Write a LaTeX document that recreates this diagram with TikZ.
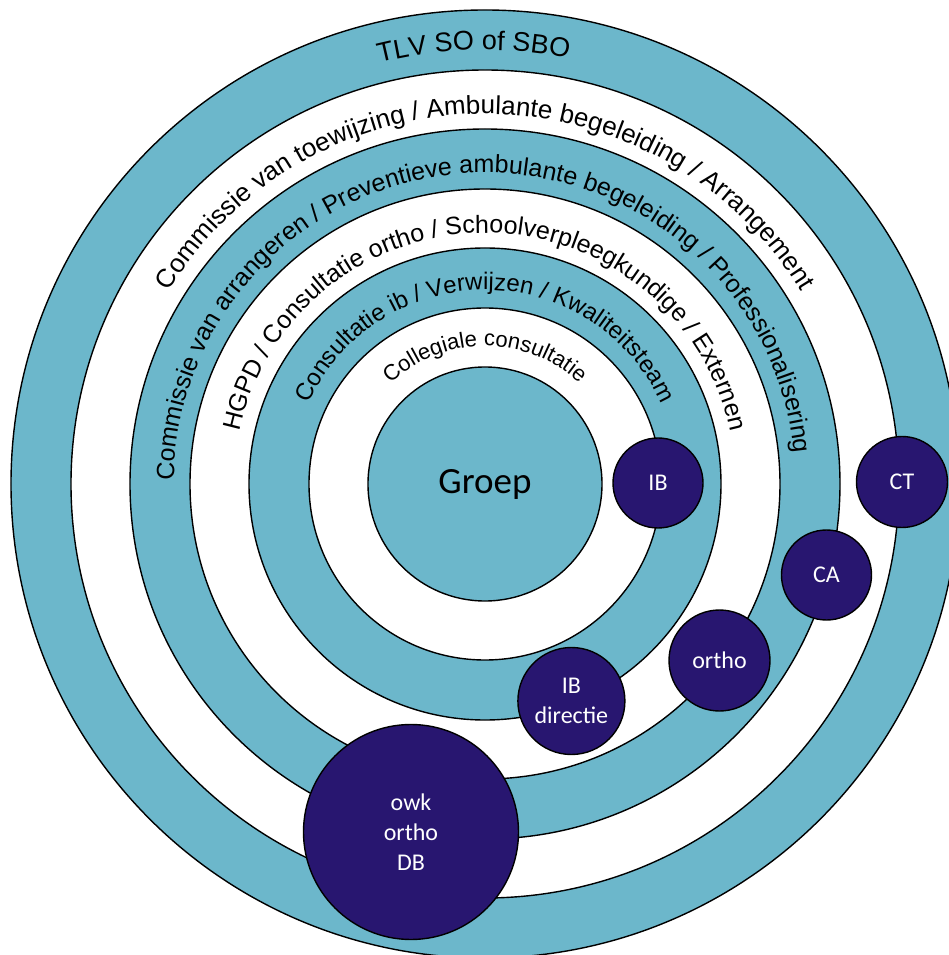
\documentclass[tikz,border=0pt]{standalone}
\usepackage{fontspec}
\newfontfamily\ringfont{Liberation Sans}
\newfontfamily\labelfont{Carlito}
\usetikzlibrary{decorations.text}
\definecolor{ringblue}{RGB}{108,183,203}
\definecolor{darkdot}{RGB}{40,22,112}

\begin{document}
\begin{tikzpicture}[x=1pt,y=1pt]
	\tikzset{ring/.style={draw=black,line width=1.4pt}}
	\tikzset{member/.style={circle,draw=black,line width=1.4pt,fill=darkdot,text=white,inner sep=0pt,align=center,font=\labelfont\fontsize{24}{30}\selectfont}}
	\tikzset{ringtext/.style 2 args={decorate,decoration={text along path,text align=center,text={|\ringfont\fontsize{#1}{#1}\selectfont|#2}}}}
	\useasboundingbox (-485,-471) rectangle (464,484);
	\clip (-485,-471) rectangle (464,484);
	\foreach \r/\c in {474/ringblue,414/white,355/ringblue,295/white,236/ringblue,176/white}
		\draw[ring,fill=\c] (0,0) circle[radius=\r];
	\node[circle,ring,fill=ringblue,minimum size=234pt,inner sep=0pt,font=\labelfont\fontsize{37}{40}\selectfont] (groep) at (0,0) {Groep};
	\path[ringtext={27}{TLV SO of SBO}] (201.5:434) arc[start angle=201.5,end angle=-18.5,radius=434];
	\path[ringtext={26}{Commissie van toewijzing / Ambulante begeleiding / Arrangement}] (200:370) arc[start angle=200,end angle=-20,radius=370];
	\path[ringtext={25}{Commissie van arrangeren / Preventieve ambulante begeleiding / Professionalisering}] (202.5:311) arc[start angle=202.5,end angle=-17.5,radius=311];
	\path[ringtext={25}{HGPD / Consultatie ortho / Schoolverpleegkundige / Externen}] (200:251) arc[start angle=200,end angle=-20,radius=251];
	\path[ringtext={24}{Consultatie ib / Verwijzen / Kwaliteitsteam}] (200:194) arc[start angle=200,end angle=-20,radius=194];
	\path[ringtext={22}{Collegiale consultatie}] (200:138) arc[start angle=200,end angle=-20,radius=138];
	\node[member,minimum size=90pt] (ib) at (173,1) {IB};
	\node[member,minimum size=91pt] (ct) at (417,2) {CT};
	\node[member,minimum size=90pt] (ca) at (341.5,-91) {CA};
	\node[member,minimum size=101pt] (ortho) at (234.5,-176.5) {ortho};
	\node[member,minimum size=107pt] (ibdir) at (86.4,-217) {IB\\directie};
	\node[member,minimum size=215pt] (owk) at (-74,-348) {owk\\ortho\\DB};
\end{tikzpicture}
\end{document}
